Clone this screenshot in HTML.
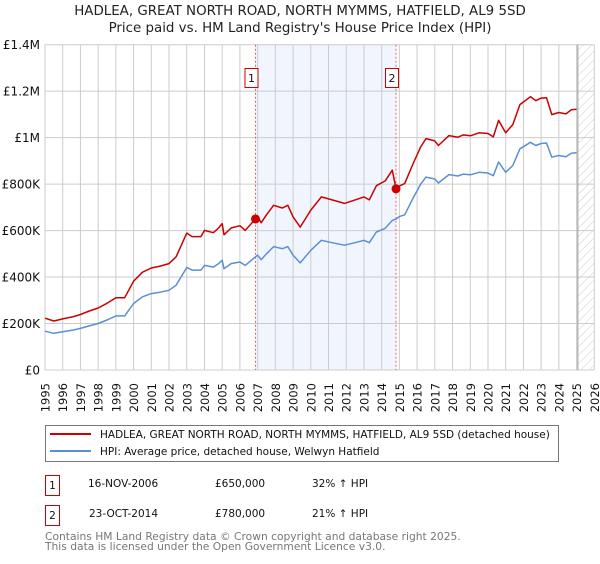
<!DOCTYPE html>
<html><head><meta charset="utf-8"><style>
body{margin:0;background:#fff;width:600px;height:560px;overflow:hidden;font-family:"DejaVu Sans","Liberation Sans",sans-serif}
svg text{font-family:"DejaVu Sans","Liberation Sans",sans-serif}
</style></head><body>
<svg id="chart" width="600" height="560" viewBox="0 0 600 560" xmlns="http://www.w3.org/2000/svg">
<defs>
<pattern id="hatch" width="6" height="6" patternUnits="userSpaceOnUse" patternTransform="rotate(45)">
<line x1="0" y1="0" x2="0" y2="6" stroke="#ccc" stroke-width="1"/>
</pattern>
</defs>
<text x="300" y="15" text-anchor="middle" font-size="13.4" fill="#222">HADLEA, GREAT NORTH ROAD, NORTH MYMMS, HATFIELD, AL9 5SD</text>
<text x="300" y="32" text-anchor="middle" font-size="13.4" fill="#222">Price paid vs. HM Land Registry's House Price Index (HPI)</text>
<g id="plot"></g>
<g>
<rect x="45.5" y="425.5" width="513" height="36" fill="#fff" stroke="#777" stroke-width="1"/>
<line x1="50" y1="434" x2="91" y2="434" stroke="#cc0000" stroke-width="2"/>
<text x="100" y="438" font-size="10.5" fill="#111">HADLEA, GREAT NORTH ROAD, NORTH MYMMS, HATFIELD, AL9 5SD (detached house)</text>
<line x1="50" y1="451" x2="91" y2="451" stroke="#5b8fd4" stroke-width="2"/>
<text x="100" y="455" font-size="10.5" fill="#111">HPI: Average price, detached house, Welwyn Hatfield</text>
</g>
<g font-size="10.5" fill="#111">
<rect x="45.5" y="475.5" width="14" height="20" fill="#fff" stroke="#cc0000"/>
<text x="52.5" y="489" text-anchor="middle">1</text>
<text x="88" y="487">16-NOV-2006</text>
<text x="215" y="487">£650,000</text>
<text x="312" y="487">32% ↑ HPI</text>
<rect x="45.5" y="505.5" width="14" height="20" fill="#fff" stroke="#cc0000"/>
<text x="52.5" y="519" text-anchor="middle">2</text>
<text x="89" y="517">23-OCT-2014</text>
<text x="215" y="517">£780,000</text>
<text x="312" y="517">21% ↑ HPI</text>
</g>
<text x="45" y="540" font-size="10.7" fill="#777">Contains HM Land Registry data © Crown copyright and database right 2025.</text>
<text x="45" y="550" font-size="10.7" fill="#777">This data is licensed under the Open Government Licence v3.0.</text>
</svg>
<script>
const years=[1995.0,1995.5,1996.0,1996.6,1997.0,1997.5,1998.0,1998.5,1999.0,1999.5,2000.0,2000.5,2001.0,2001.5,2002.0,2002.4,2003.0,2003.3,2003.8,2004.0,2004.5,2004.8,2005.0,2005.1,2005.5,2006.0,2006.3,2006.88,2007.0,2007.2,2007.5,2007.9,2008.4,2008.7,2009.0,2009.4,2010.0,2010.6,2011.2,2011.9,2012.5,2013.0,2013.3,2013.7,2014.2,2014.6,2014.81,2015.0,2015.3,2015.8,2016.2,2016.5,2017.0,2017.2,2017.8,2018.3,2018.6,2019.0,2019.5,2020.0,2020.3,2020.6,2021.0,2021.4,2021.8,2022.4,2022.7,2023.0,2023.3,2023.6,2024.0,2024.4,2024.7,2025.0];
const hpiValues=[167,158,165,172,179,190,200,215,233,233,286,315,329,335,343,365,441,430,430,450,443,458,472,436,458,465,450,487,494,475,500,531,522,531,494,461,515,558,548,537,548,558,548,594,610,644,650,660,668,744,800,830,822,805,841,835,843,840,851,848,836,895,851,880,952,980,966,975,977,916,923,918,933,935];
const propertyValues=[223,211,220,230,239,254,267,287,311,311,382,421,439,447,458,487,589,574,574,601,591,611,630,582,611,621,601,650,659,634,668,709,697,709,659,615,688,745,732,717,732,745,732,793,814,860,780,792,802,893,960,996,986,966,1009,1002,1012,1008,1021,1018,1003,1074,1021,1056,1142,1176,1159,1170,1172,1099,1108,1102,1120,1122];
const yTickValues=[0,200,400,600,800,1000,1200,1400];
const yTickLabels=["£0","£200K","£400K","£600K","£800K","£1M","£1.2M","£1.4M"];
const xTickYears=[1995,1996,1997,1998,1999,2000,2001,2002,2003,2004,2005,2006,2007,2008,2009,2010,2011,2012,2013,2014,2015,2016,2017,2018,2019,2020,2021,2022,2023,2024,2025,2026];
const saleYears=[2006.88,2014.81];
const salePrices=[650,780];
const saleLabels=["1","2"];
const dataEndYear=2025.1;

const L=45,R=594.3,T=44.7,B=370,X0=1995,X1=2026,YMAX=1400;
const xs=y=>L+(y-X0)/(X1-X0)*(R-L);
const ys=v=>B-v/YMAX*(B-T);
const NS="http://www.w3.org/2000/svg";
const g=document.getElementById('plot');
function mk(tag,attrs){const e=document.createElementNS(NS,tag);for(const k in attrs)e.setAttribute(k,attrs[k]);g.appendChild(e);return e;}

let e=mk('rect',{x:xs(saleYears[0]),y:T,width:xs(saleYears[1])-xs(saleYears[0]),height:B-T,fill:'#f1f5fd'});


e=mk('rect',{x:xs(dataEndYear),y:T,width:R-xs(dataEndYear),height:B-T,fill:'url(#hatch)'});



xTickYears.forEach(yr=>{
  const x=xs(yr);
  const l=mk('line',{x1:x,y1:T,x2:x,y2:B,stroke:'#cccccc','stroke-width':1});
  
  
  const t=mk('text',{x:0,y:0,'font-size':11.5,fill:'#111','text-anchor':'end',transform:`translate(${x+4.5},383) rotate(-90)`});
  t.textContent=String(yr);
  
  
});
yTickValues.forEach((v,i)=>{
  const y=ys(v);
  const l=mk('line',{x1:L,y1:y,x2:R,y2:y,stroke:'#cccccc','stroke-width':1});
  
  
  const t=mk('text',{x:40,y:y+4.5,'font-size':12,fill:'#111','text-anchor':'end'});
  t.textContent=yTickLabels[i];
  
  
});
e=mk('line',{x1:xs(dataEndYear)-0.5,y1:T,x2:xs(dataEndYear)-0.5,y2:B,stroke:'#999','stroke-width':1});



saleYears.forEach((sy,i)=>{
  const x=xs(sy);
  const l=mk('line',{x1:x,y1:T,x2:x,y2:B,stroke:'#e06666','stroke-width':1,'stroke-dasharray':'2,2'});
  
  
  const r=mk('rect',{x:x-10.5,y:68.5,width:13,height:19,fill:'#fff',stroke:'#cc0000'});
  
  
  const t=mk('text',{x:x-4,y:82,'font-size':11,fill:'#111','text-anchor':'middle'});
  t.textContent=saleLabels[i];
  
  
});

function path(vals,color,name){
  const d=vals.map((v,i)=>(i?'L':'M')+xs(years[i]).toFixed(1)+','+ys(v).toFixed(1)).join('');
  const p=mk('path',{d:d,fill:'none',stroke:color,'stroke-width':1.5,'stroke-linejoin':'round'});
  
  
}
path(hpiValues,'#5b8fd4','hpi-line');
path(propertyValues,'#cc0000','property-line');

saleYears.forEach((sy,i)=>{
  const c=mk('circle',{cx:xs(sy),cy:ys(salePrices[i]),r:4.5,fill:'#cc0000'});
  
  
});
</script>
</body></html>
